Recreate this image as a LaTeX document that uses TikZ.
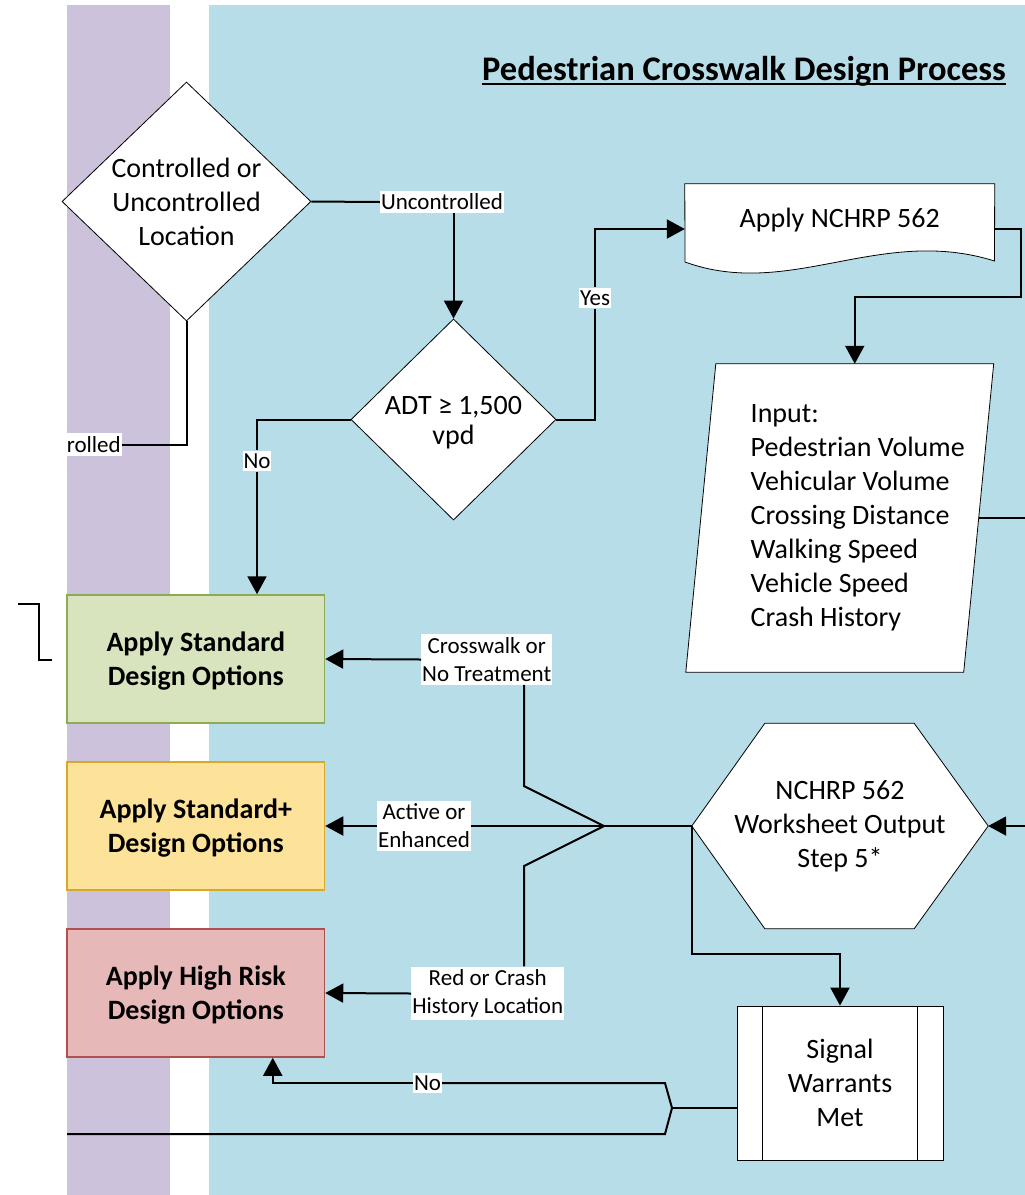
\documentclass[tikz,border=0pt]{standalone}
\usepackage{fontspec}
\setmainfont{Carlito}
\usetikzlibrary{shapes.geometric,arrows.meta}

\definecolor{lanepurple}{HTML}{CCC2DB}
\definecolor{laneblue}{HTML}{B7DDE8}
\definecolor{stdfill}{HTML}{D7E4BD}
\definecolor{stdline}{HTML}{8FAA55}
\definecolor{plusfill}{HTML}{FDE29A}
\definecolor{plusline}{HTML}{D8A82A}
\definecolor{riskfill}{HTML}{E6B8B7}
\definecolor{riskline}{HTML}{B0504E}

\pgfdeclarelayer{lanes}
\pgfdeclarelayer{shapes}
\pgfsetlayers{lanes,shapes,main}

\newcommand{\rows}[1]{\raisebox{-3pt}[\height][\depth]{\begin{tabular}{@{}c@{}}#1\end{tabular}}}

\tikzset{
    body/.style={font=\fontsize{28}{34}\selectfont, align=center, inner sep=0pt},
    decision/.style={body, diamond, draw, fill=white, line width=0.8pt},
    optbox/.style={body, font=\fontsize{28}{34}\selectfont\bfseries, minimum width=257.5, minimum height=128, line width=1.5pt, draw},
    lbl/.style={fill=white, font=\fontsize{23}{28}\selectfont, align=center, inner xsep=1pt, inner ysep=3pt},
    conn/.style={line width=2pt},
    arr/.style={-{Triangle[length=18pt,width=19pt]}},
}

\begin{document}
\begin{tikzpicture}[x=1pt, y=-1pt]
    \useasboundingbox (0,0) rectangle (1025,1195);

    \begin{pgfonlayer}{lanes}
        \fill[lanepurple] (67,5) rectangle (170,1195);
        \fill[laneblue] (209,5) rectangle (1025,1195);
    \end{pgfonlayer}

    \node[font=\fontsize{34.5}{40}\selectfont\bfseries, inner sep=0pt, anchor=base] (title) at (744,80) {Pedestrian Crosswalk Design Process};
    \draw[line width=2.5pt] ([yshift=-4pt]title.base west) -- ([yshift=-4pt]title.base east);

    \node[decision, minimum width=249, minimum height=239] (ctrl) at (186.5,201.5) {Controlled or\\Uncontrolled\\Location};
    \node[decision, minimum width=205, minimum height=197] (adt) at (453.5,419.5) {\rows{ADT ≥ 1,500\\[-4pt]vpd}};
    \node[body, minimum width=309.5, minimum height=90] (ncrp) at (839.75,229) {\raisebox{9pt}[\height][\depth]{Apply NCHRP 562}};
    \node[body, minimum width=277.5, minimum height=308] (input) at (839.75,518) {\hspace*{36pt}\begin{tabular}{@{}l@{}}Input:\\Pedestrian Volume\\Vehicular Volume\\Crossing Distance\\Walking Speed\\Vehicle Speed\\Crash History\end{tabular}};
    \node[body, minimum width=296, minimum height=205] (hex) at (840,826) {NCHRP 562\\Worksheet Output\\Step 5*};
    \node[body, draw, fill=white, line width=0.8pt, minimum width=206, minimum height=154] (sig) at (840,1083) {Signal\\Warrants\\Met};
    \draw[line width=0.8pt] ([xshift=26pt]sig.north west) -- ([xshift=26pt]sig.south west);
    \draw[line width=0.8pt] ([xshift=-26pt]sig.north east) -- ([xshift=-26pt]sig.south east);

    \node[optbox, fill=stdfill, draw=stdline] (std) at (195.75,659) {\rows{Apply Standard\\Design Options}};
    \node[optbox, fill=plusfill, draw=plusline] (plus) at (195.75,826) {\rows{Apply Standard+\\Design Options}};
    \node[optbox, fill=riskfill, draw=riskline] (risk) at (195.75,993) {\rows{Apply High Risk\\Design Options}};

    \begin{pgfonlayer}{shapes}
        \draw[fill=white, line width=0.8pt] (ncrp.north west) -- (ncrp.north east) -- (994.5,261)
            .. controls (880,225) and (790,300) .. (685,262) -- cycle;
        \draw[fill=white, line width=0.8pt] ([xshift=15pt]input.north west) -- ([xshift=15pt]input.north east)
            -- ([xshift=-15pt]input.south east) -- ([xshift=-15pt]input.south west) -- cycle;
        \draw[fill=white, line width=0.8pt] (hex.west) -- ([xshift=73pt]hex.north west) -- ([xshift=-74pt]hex.north east)
            -- (hex.east) -- ([xshift=-74pt]hex.south east) -- ([xshift=73pt]hex.south west) -- cycle;
    \end{pgfonlayer}

    \node[lbl] (unc) at (442,202) {Uncontrolled};
    \node[lbl] (yes) at (595,298) {Yes};
    \node[lbl] (no1) at (257,461) {No};
    \node[lbl] (xwalk) at (486.75,659.5) {Crosswalk or\\No Treatment};
    \node[lbl] (actv) at (424,826) {Active or\\Enhanced};
    \node[lbl] (red) at (487.75,993.5) {Red or Crash\\History Location};
    \node[lbl] (no2) at (427.5,1083) {No};
    \begin{scope}
        \clip (67,400) rectangle (200,480);
        \node[lbl, anchor=east] (ctl) at (122,444.5) {Controlled};
    \end{scope}

    \coordinate (rim) at (1025,0);
    \coordinate (merge) at (604,826);
    \coordinate (kneeU) at (524,786);
    \coordinate (kneeD) at (524,866);
    \coordinate (fork) at (672,1108);
    \coordinate (farleft) at (67,1134);

    \draw[conn] (ctrl.east) -- (unc.west);
    \draw[conn, arr] (unc.south -| adt.north) -- (adt.north);
    \draw[conn] (ctrl.south) |- (ctl.east);
    \draw[conn] (adt.west) -| (no1.north);
    \draw[conn, arr] (no1.south) -- (no1.south |- std.north);
    \draw[conn] (adt.east) -| (yes.south);
    \draw[conn, arr] (yes.north) |- (ncrp.west);
    \draw[conn, arr] (ncrp.east) -- ++(26,0) -- ++(0,68) -| ([xshift=15pt]input.north);
    \draw[conn] (input.east) -- (input.east -| rim);
    \draw[conn, arr] (hex.east -| rim) -- (hex.east);
    \draw[conn] (hex.west) -- (actv.east);
    \draw[conn, arr] (actv.west) -- (plus.east);
    \draw[conn] (merge) -- (kneeU) -- (kneeU |- xwalk.south);
    \draw[conn] (merge) -- (kneeD) -- (kneeD |- red.north);
    \draw[conn, arr] (xwalk.west) -- (std.east);
    \draw[conn, arr] (red.west) -- (risk.east);
    \draw[conn, arr] (hex.west) -- ++(0,128) -| (sig.north);
    \draw[conn] ([yshift=-25pt]sig.west) -- (fork);
    \draw[conn] (fork) -- ++(-7,-25) -- (no2.east);
    \draw[conn, arr] (no2.west) -| ([xshift=77pt]risk.south);
    \draw[conn] (fork) -- ++(-7,26) -- (farleft);
    \draw[conn] (18,604) -- (39,604) -- (39,660) -- (52,660);
\end{tikzpicture}
\end{document}
